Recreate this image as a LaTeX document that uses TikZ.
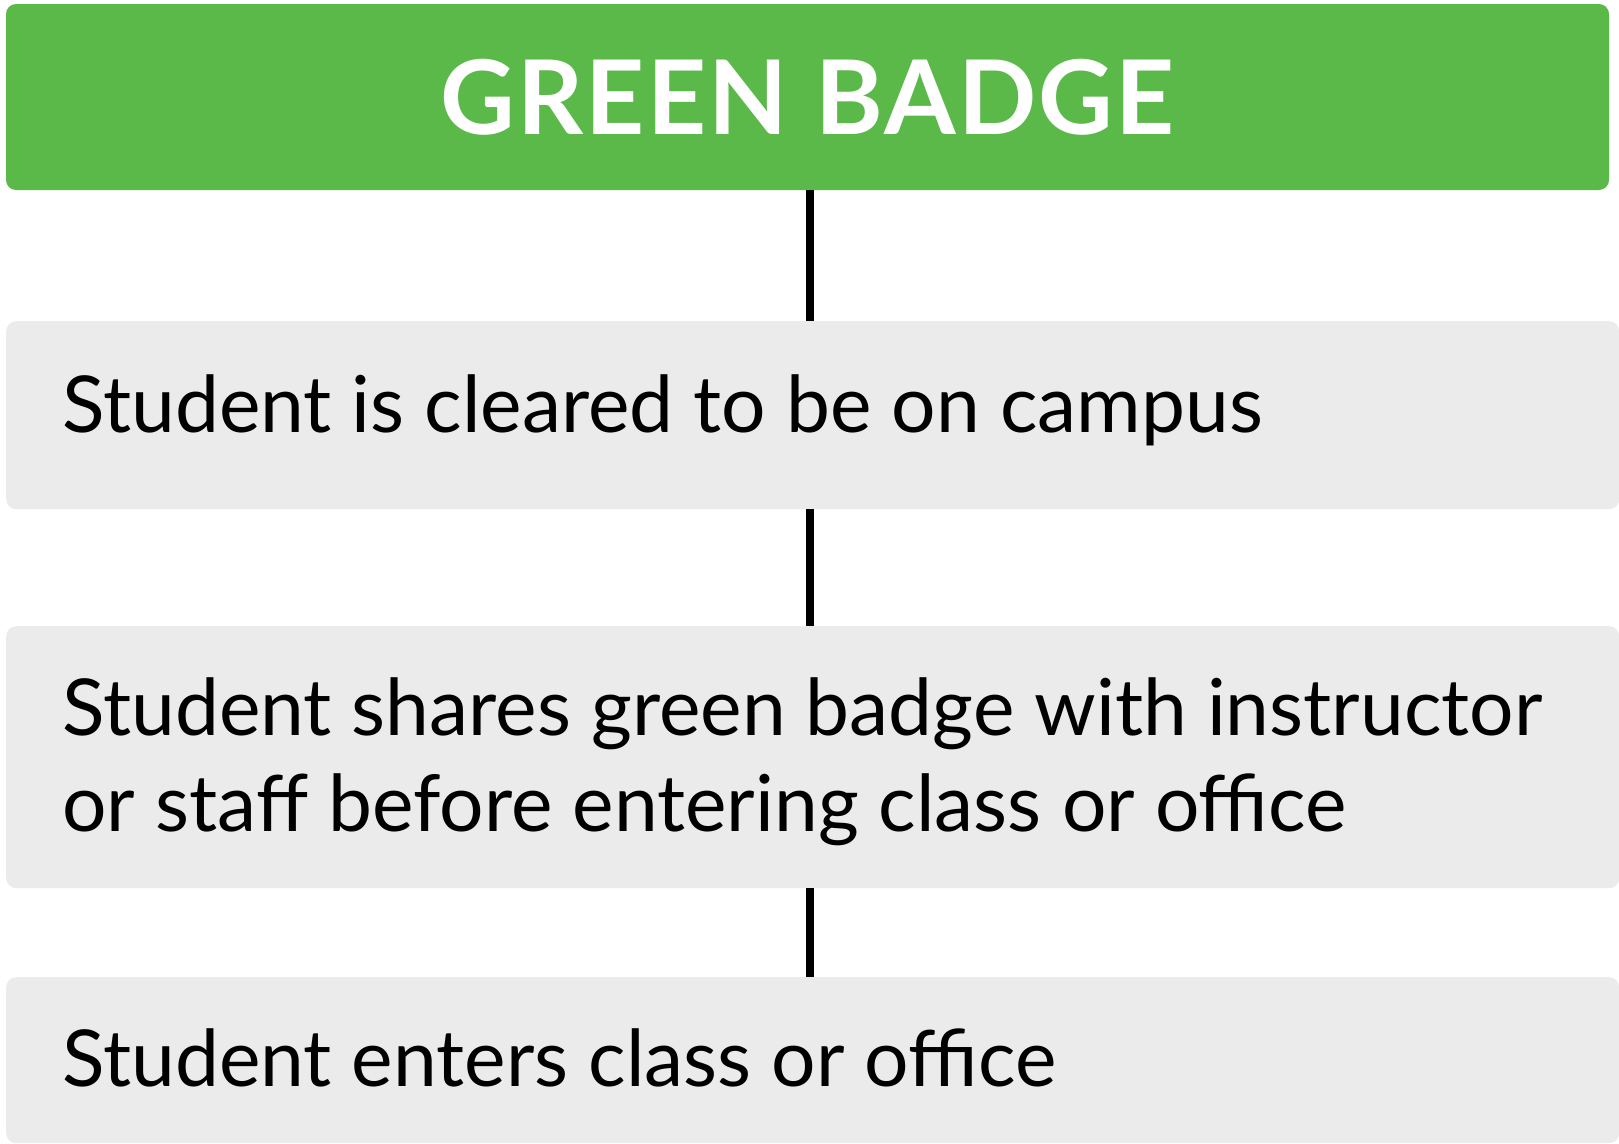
\documentclass[tikz,border=0pt]{standalone}
\usepackage{fontspec}
\setmainfont{Lato}
\newfontfamily\titlefont[LetterSpace=2.2]{Lato}
\definecolor{badgegreen}{HTML}{5BB94A}
\definecolor{boxgray}{HTML}{EBEBEB}
\begin{document}
\begin{tikzpicture}[x=1pt,y=-1pt,
  greenbox/.style={fill=badgegreen, rounded corners=10pt, inner sep=0pt, minimum width=1603pt, minimum height=186pt, text=white, font=\titlefont\fontsize{103}{110}\selectfont\bfseries},
  graybox/.style={fill=boxgray, rounded corners=10pt, inner sep=0pt, anchor=north west, minimum width=1613pt},
  bodytext/.style={anchor=base west, inner sep=0pt, align=left, font=\fontsize{78.5}{96}\selectfont},
  link/.style={line width=8pt, draw=black}]
\useasboundingbox (0,0) rectangle (1619,1143);
\node[greenbox] (g) at (807.5,97) {GREEN BADGE};
\node[graybox, minimum height=188pt] (b1) at (6,321) {};
\node[graybox, minimum height=262pt] (b2) at (6,626) {};
\node[graybox, minimum height=166pt] (b3) at (6,977) {};
\node[bodytext] (t1) at (62,432) {Student is cleared to be on campus};
\node[bodytext] (t2) at (62,831) {Student shares green badge with instructor\\or staff before entering class or office};
\node[bodytext] (t3) at (62,1086) {Student enters class or office};
\coordinate (c1) at (810,0);
\draw[link] (g.south -| c1) -- (b1.north -| c1);
\draw[link] (b1.south -| c1) -- (b2.north -| c1);
\draw[link] (b2.south -| c1) -- (b3.north -| c1);
\end{tikzpicture}
\end{document}
